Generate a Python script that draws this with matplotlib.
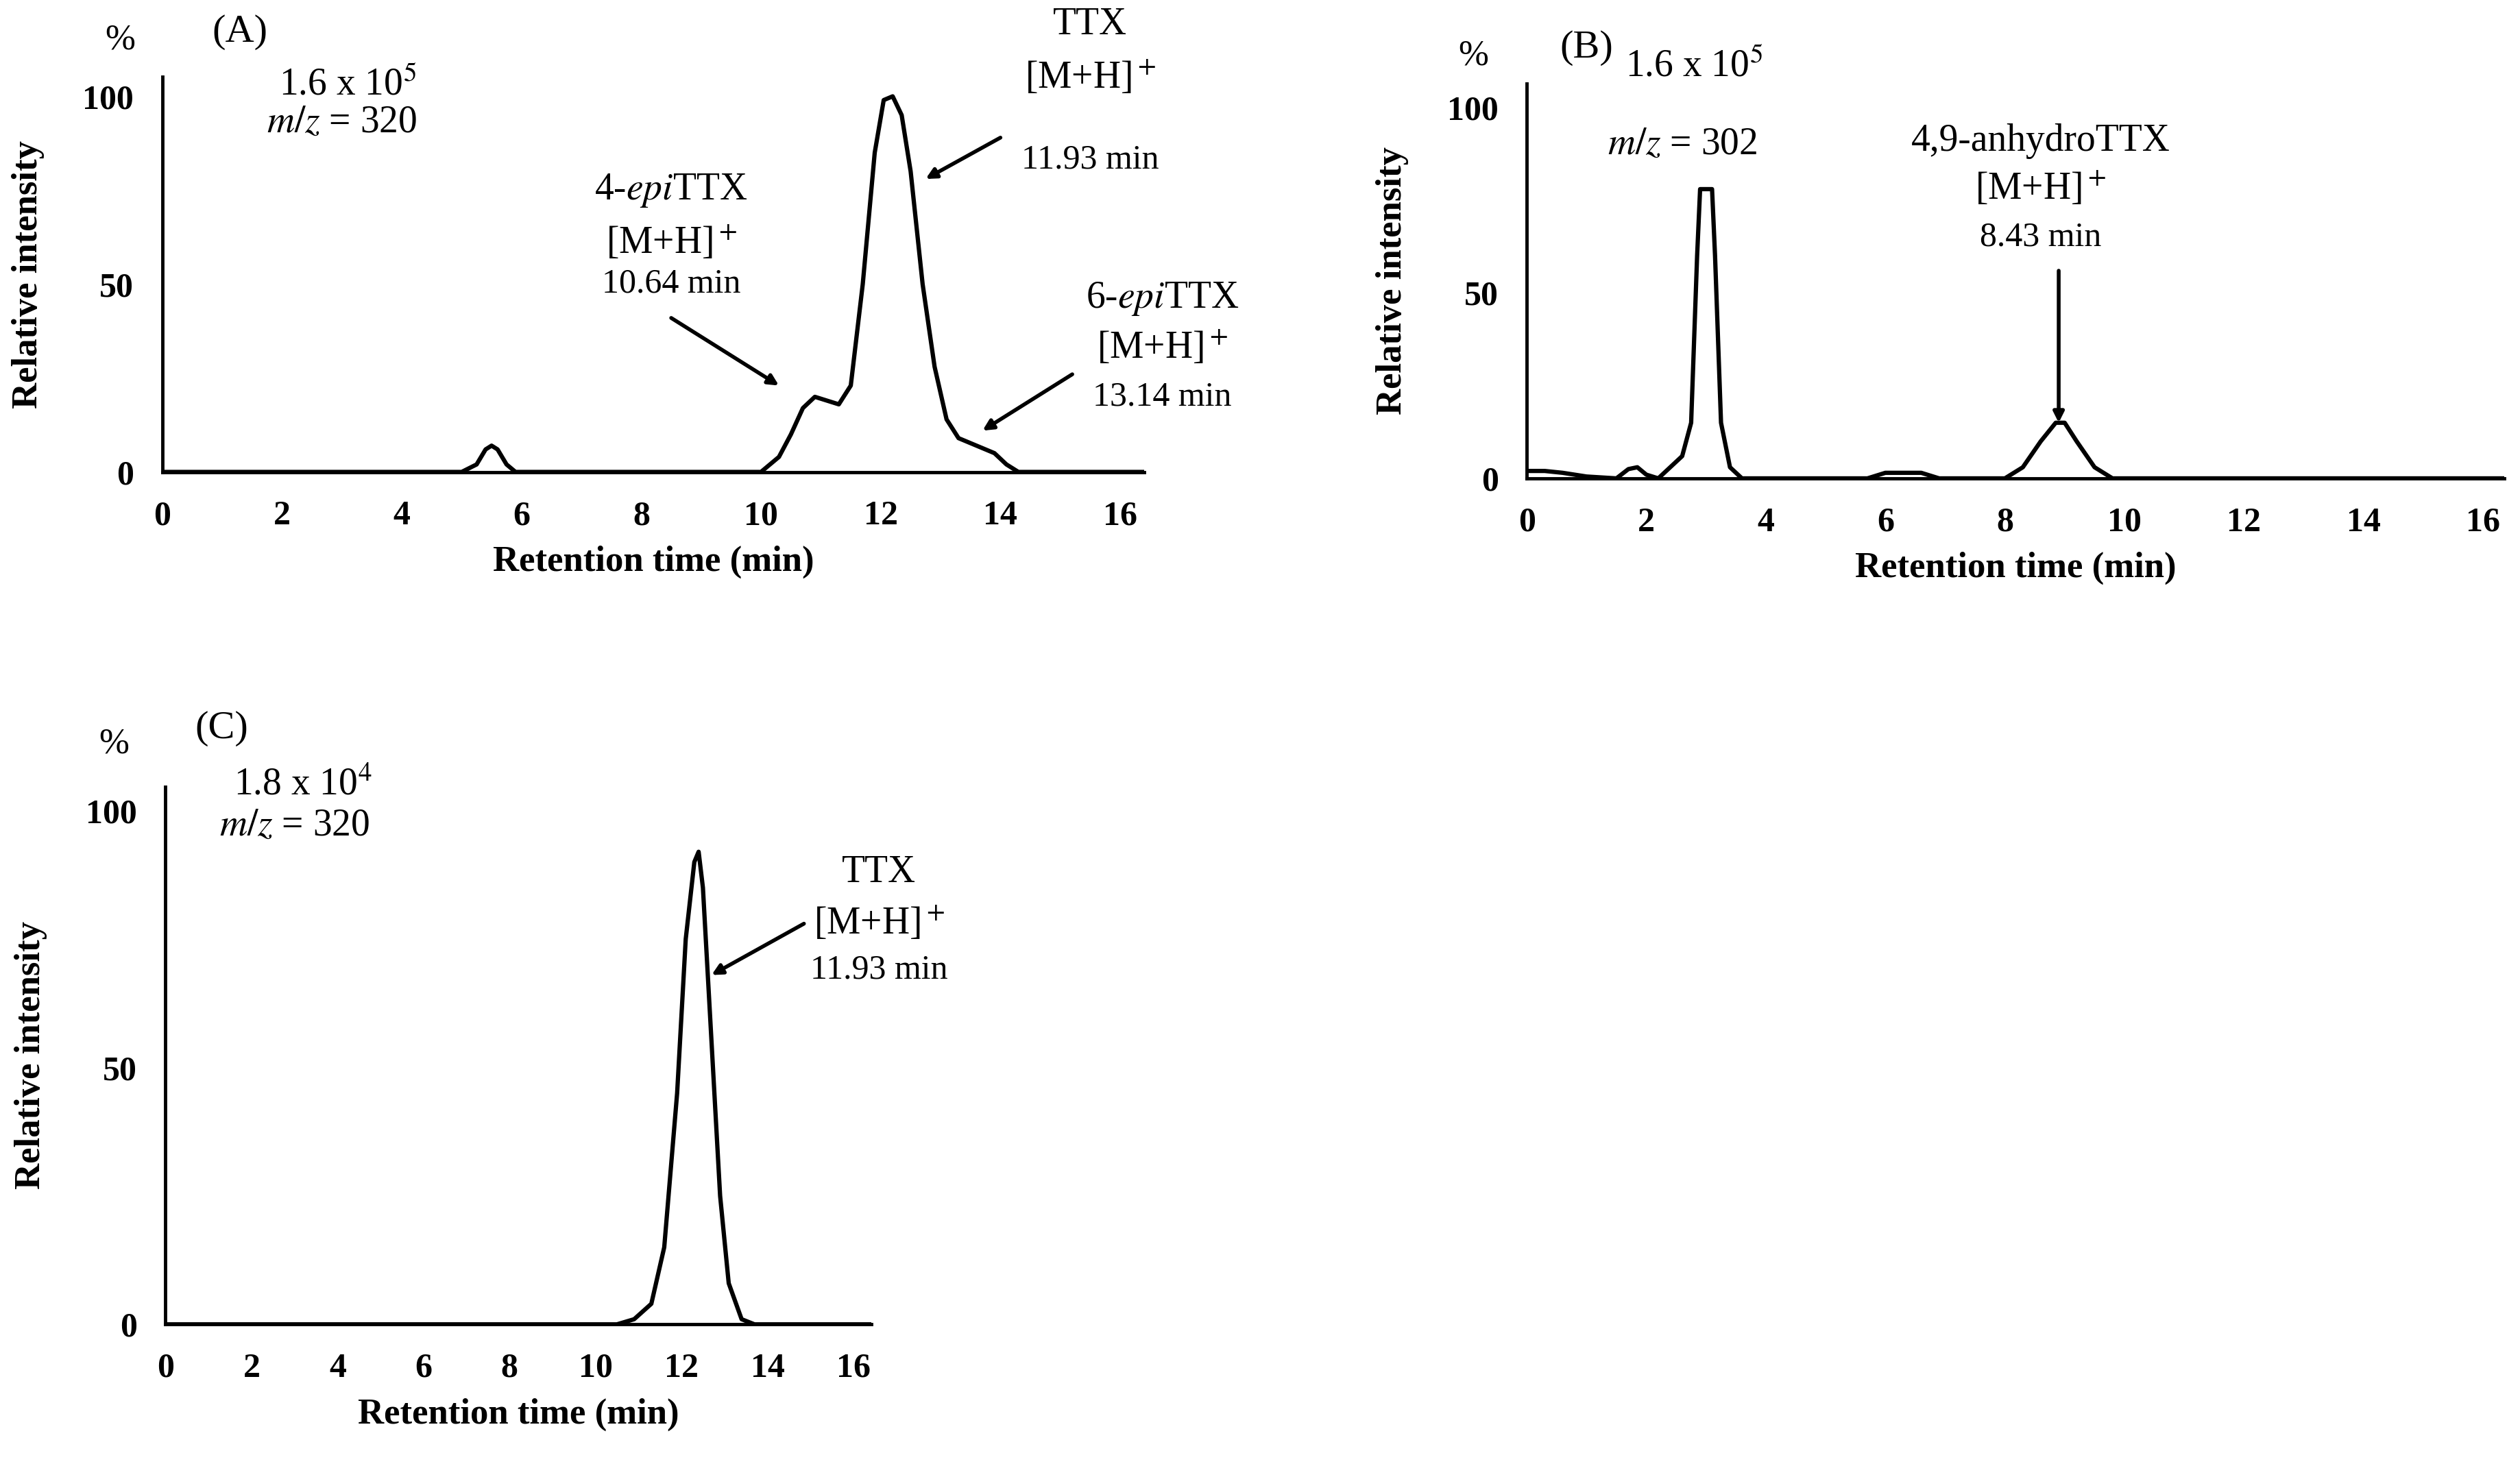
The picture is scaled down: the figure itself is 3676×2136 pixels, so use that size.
import matplotlib
matplotlib.use("Agg")
import matplotlib.pyplot as plt

plt.rcParams['font.family'] = ['Liberation Serif', 'DejaVu Serif']
plt.rcParams['mathtext.fontset'] = 'stix'

# Panel A (m/z 320)
tA = [0, 5.0, 5.25, 5.4, 5.5, 5.6, 5.75, 5.9, 10.0, 10.3, 10.5, 10.7, 10.9, 11.1, 11.3, 11.5, 11.7, 11.9, 12.05, 12.2, 12.35, 12.5, 12.7, 12.9, 13.1, 13.3, 13.6, 13.9, 14.1, 14.3, 16.4]
iA = [0, 0, 2, 6, 7, 6, 2, 0, 0, 4, 10, 17, 20, 19, 18, 23, 50, 85, 99, 100, 95, 80, 50, 28, 14, 9, 7, 5, 2, 0, 0]
# Panel B (m/z 302)
tB = [0, 0.3, 0.6, 1.0, 1.5, 1.7, 1.85, 2.0, 2.2, 2.4, 2.6, 2.75, 2.85, 2.9, 3.1, 3.15, 3.25, 3.4, 3.6, 5.7, 6.0, 6.3, 6.6, 6.9, 7.1, 8.0, 8.3, 8.6, 8.85, 9.0, 9.2, 9.5, 9.8, 16.35]
iB = [2, 2, 1.5, 0.5, 0, 2.5, 3, 1, 0, 3, 6, 15, 60, 78, 78, 60, 15, 3, 0, 0, 1.5, 1.5, 1.5, 0, 0, 0, 3, 10, 15, 15, 10, 3, 0, 0]
# Panel C (m/z 320)
tC = [0, 10.5, 10.9, 11.3, 11.6, 11.9, 12.1, 12.3, 12.4, 12.5, 12.7, 12.9, 13.1, 13.4, 13.7, 16.4]
iC = [0, 0, 1, 4, 15, 45, 75, 90, 92, 85, 55, 25, 8, 1, 0, 0]

xticks = [0, 2, 4, 6, 8, 10, 12, 14, 16]
yticks = [0, 50, 100]

W, H = 1568, 912
fig = plt.figure(figsize=(36.76, 21.36), dpi=100)

def mkax(x0px, x16px, xendpx, y0px, y100px, ytoppx):
    sx = (x16px - x0px) / 16.0
    sy = (y0px - y100px) / 100.0
    xmax = (xendpx - x0px) / sx
    ymax = (y0px - ytoppx) / sy
    ax = fig.add_axes([x0px / W, 1 - y0px / H, (xendpx - x0px) / W, (y0px - ytoppx) / H])
    ax.set_xlim(0, xmax)
    ax.set_ylim(0, ymax)
    for s in ['top', 'right']:
        ax.spines[s].set_visible(False)
    for s in ['left', 'bottom']:
        ax.spines[s].set_linewidth(3.5)
    ax.set_xticks(xticks)
    ax.set_yticks(yticks)
    ax.tick_params(length=0, pad=30, labelsize=36)
    for lb in ax.get_xticklabels() + ax.get_yticklabels():
        lb.set_fontweight('bold')
    ax.set_xlabel('Retention time (min)', fontsize=38, fontweight='bold', labelpad=14)
    ax.set_ylabel('Relative intensity', fontsize=38, fontweight='bold', labelpad=40)
    return ax

def txt(ax, x, y, s, size=40, **k):
    ax.text(x, y, s, fontsize=size, ha='center', va='center', clip_on=False, **k)

akw = dict(arrowstyle='-|>,head_length=0.9,head_width=0.45', lw=4, color='black', shrinkA=0, shrinkB=0)

axA = mkax(101, 697, 712, 294, 60, 48)
axA.plot(tA, iA, color='black', lw=4.5, solid_joinstyle='round')
txt(axA, -0.7, 115, '%', 38)
txt(axA, 1.3, 117, '(A)', 42)
txt(axA, 3.1, 103, '1.6 x 10$^5$')
txt(axA, 3.0, 93, '$m/z$ = 320')
txt(axA, 15.5, 119, 'TTX')
txt(axA, 15.5, 105, '[M+H]$^+$')
txt(axA, 15.5, 83, '11.93 min', 36)
axA.annotate('', xy=(12.75, 78), xytext=(14.0, 89), arrowprops=akw)
txt(axA, 8.5, 75, '4-$epi$TTX')
txt(axA, 8.5, 61, '[M+H]$^+$')
txt(axA, 8.5, 50, '10.64 min', 36)
axA.annotate('', xy=(10.3, 23), xytext=(8.5, 41), arrowprops=akw)
txt(axA, 16.7, 46, '6-$epi$TTX')
txt(axA, 16.7, 33, '[M+H]$^+$')
txt(axA, 16.7, 20, '13.14 min', 36)
axA.annotate('', xy=(13.7, 11), xytext=(15.2, 26), arrowprops=akw)

axB = mkax(950, 1545, 1558, 298, 67, 52)
axB.plot(tB, iB, color='black', lw=4.5, solid_joinstyle='round')
txt(axB, -0.9, 114, '%', 38)
txt(axB, 1.0, 116, '(B)', 42)
txt(axB, 2.8, 111, '1.6 x 10$^5$')
txt(axB, 2.6, 90, '$m/z$ = 302')
txt(axB, 8.6, 91, '4,9-anhydroTTX')
txt(axB, 8.6, 78, '[M+H]$^+$')
txt(axB, 8.6, 65, '8.43 min', 36)
axB.annotate('', xy=(8.9, 15), xytext=(8.9, 56), arrowprops=akw)

axC = mkax(103, 531, 542, 825, 505, 490)
axC.plot(tC, iC, color='black', lw=4.5, solid_joinstyle='round')
txt(axC, -1.2, 113, '%', 38)
txt(axC, 1.3, 116, '(C)', 42)
txt(axC, 3.2, 105, '1.8 x 10$^4$')
txt(axC, 3.0, 97, '$m/z$ = 320')
txt(axC, 16.6, 88, 'TTX')
txt(axC, 16.6, 78, '[M+H]$^+$')
txt(axC, 16.6, 69, '11.93 min', 36)
axC.annotate('', xy=(12.7, 68), xytext=(14.85, 78), arrowprops=akw)

fig.savefig('out.png', dpi=100)
